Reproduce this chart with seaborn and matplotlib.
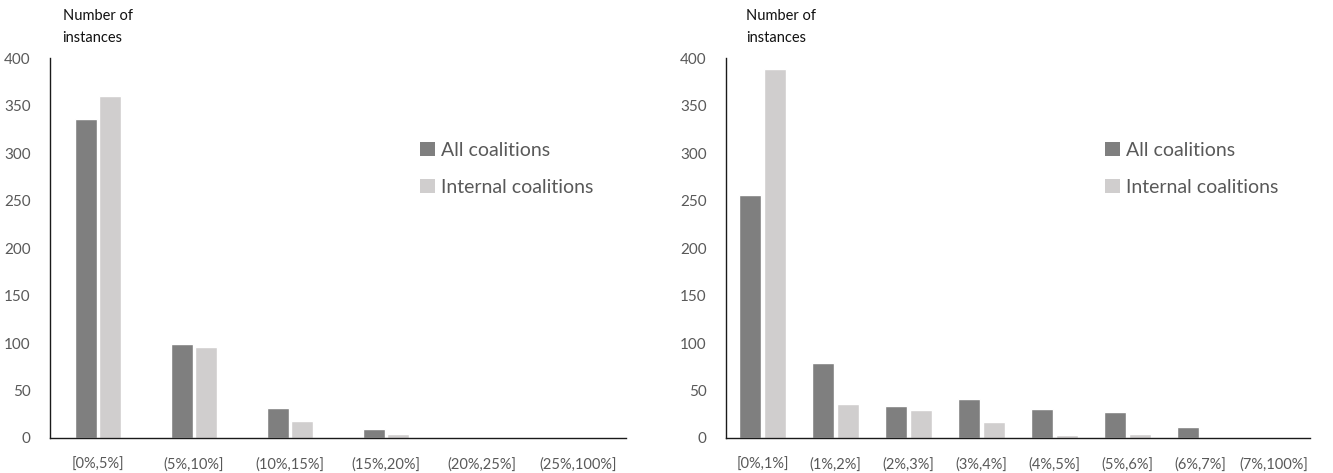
import matplotlib
matplotlib.use("Agg")
import matplotlib.pyplot as plt
import seaborn as sns
import pandas as pd
from matplotlib.patches import Patch

# Distribution of instances per deviation bucket
left_bins = ["[0%,5%]", "(5%,10%]", "(10%,15%]", "(15%,20%]", "(20%,25%]", "(25%,100%]"]
left_all = [336, 99, 32, 10, 0, 0]
left_internal = [360, 96, 18, 4, 0, 0]

right_bins = ["[0%,1%]", "(1%,2%]", "(2%,3%]", "(3%,4%]", "(4%,5%]", "(5%,6%]", "(6%,7%]", "(7%,100%]"]
right_all = [256, 79, 34, 41, 31, 27, 12, 0]
right_internal = [389, 36, 30, 17, 3, 4, 0, 0]

series_names = ["All coalitions", "Internal coalitions"]
colors = ["#7f7f7f", "#d0cece"]
y_ticks = [0, 50, 100, 150, 200, 250, 300, 350, 400]

sns.set_style("white")
plt.rcParams["font.family"] = ["Lato", "DejaVu Sans"]

fig = plt.figure(figsize=(13.33, 4.73), dpi=100)
ax_l = fig.add_axes([0.0375, 0.074, 0.432, 0.803])
ax_r = fig.add_axes([0.5446, 0.074, 0.438, 0.803])


def build(bins, all_vals, internal_vals):
    return pd.DataFrame({
        "bin": bins * 2,
        "series": [series_names[0]] * len(bins) + [series_names[1]] * len(bins),
        "count": list(all_vals) + list(internal_vals),
    })


def draw(ax, df, bins, width, label_x, legend_x):
    sns.barplot(data=df, x="bin", y="count", hue="series", order=bins,
                hue_order=series_names, palette=colors, width=width, gap=0.1,
                saturation=1, ax=ax, legend=False)
    ax.set_xlim(-0.5, len(bins) - 0.5)
    ax.set_ylim(0, 400)
    ax.set_yticks(y_ticks)
    ax.set_xlabel("")
    ax.set_ylabel("")
    for s in ["top", "right"]:
        ax.spines[s].set_visible(False)
    for s in ["left", "bottom"]:
        ax.spines[s].set_color("#1a1a1a")
        ax.spines[s].set_linewidth(1.0)
    ax.tick_params(axis="y", length=0, labelsize=11, labelcolor="#595959", pad=14)
    ax.tick_params(axis="x", length=0, labelsize=10.5, labelcolor="#595959", pad=14)
    ax.text(label_x, 1.13, "Number of\ninstances", transform=ax.transAxes,
            fontsize=10.5, color="#111111", va="top", ha="left", linespacing=1.75)
    handles = [Patch(facecolor=c, edgecolor="none") for c in colors]
    ax.legend(handles, series_names, loc="upper left", bbox_to_anchor=(legend_x, 0.825),
              frameon=False, fontsize=14, labelcolor="#595959",
              handlelength=0.75, handleheight=0.75, handletextpad=0.3, labelspacing=1.0)


draw(ax_l, build(left_bins, left_all, left_internal), left_bins, 0.5, 0.022, 0.613)
draw(ax_r, build(right_bins, right_all, right_internal), right_bins, 0.67, 0.034, 0.62)

fig.savefig("out.png", dpi=100)
